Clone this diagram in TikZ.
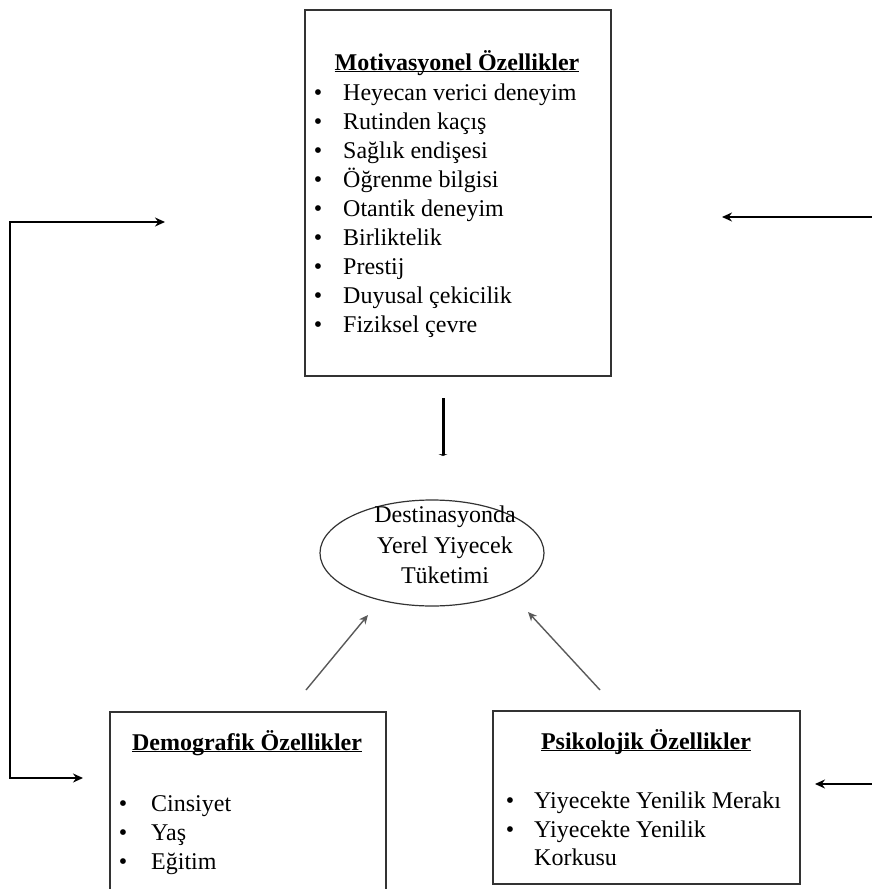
\documentclass[tikz,border=0pt]{standalone}
\usepackage{fontspec}
\setmainfont{Liberation Serif}
\usetikzlibrary{arrows.meta,shapes.geometric}
\newcommand\myul[1]{\underline{\smash{#1}}}
\begin{document}
\begin{tikzpicture}[x=1pt,y=-1pt,
 box/.style={draw=black!80, line width=1.2pt, inner sep=0pt, outer sep=0pt},
 txt/.style={font=\fontsize{24}{29}\selectfont, inner sep=0pt, anchor=base west},
 ttl/.style={font=\fontsize{24}{29}\selectfont\bfseries, inner sep=0pt, anchor=base},
 ctr/.style={font=\fontsize{24}{29}\selectfont, inner sep=0pt, anchor=base},
 bul/.style={font=\fontsize{24}{29}\selectfont, inner sep=0pt, anchor=base},
 mytip/.tip={Stealth[length=10pt,width=9pt]},
 conn/.style={line width=1.5pt, -mytip},
 diag/.style={black!65, line width=1.4pt, -{Stealth[length=9pt,width=8pt]}}
]
\useasboundingbox (0,0) rectangle (872,889);

% boxes
\node[box, minimum width=306pt, minimum height=366pt] (mot) at (458,193) {};
\node[box, minimum width=276pt, minimum height=182pt] (dem) at (248,803) {};
\node[box, minimum width=307pt, minimum height=173pt] (psi) at (646.5,797.5) {};
\node[draw=black!80, line width=1.2pt, ellipse, minimum width=224pt, minimum height=106pt, inner sep=0pt] (ell) at (432,553) {};

% motivasyonel
\node[ttl] (motT) at (457,70) {\myul{Motivasyonel Özellikler}};
\foreach \t [count=\i] in {Heyecan verici deneyim, Rutinden kaçış, Sağlık endişesi, Öğrenme bilgisi, Otantik deneyim, Birliktelik, Prestij, Duyusal çekicilik, Fiziksel çevre}{
  \node[bul] (mb\i) at (318,{100+29*(\i-1)}) {\textbullet};
  \node[txt] (mt\i) at (343,{100+29*(\i-1)}) {\t};
}

% ellipse text
\node[ctr] (e1) at (445,522) {Destinasyonda};
\node[ctr] (e2) at (445,553) {Yerel Yiyecek};
\node[ctr] (e3) at (445,583) {Tüketimi};

% demografik
\node[ttl] (demT) at (247,750) {\myul{Demografik Özellikler}};
\foreach \t [count=\i] in {Cinsiyet, Yaş, Eğitim}{
  \node[bul] (db\i) at (123,{811+29*(\i-1)}) {\textbullet};
  \node[txt] (dt\i) at (151,{811+29*(\i-1)}) {\t};
}

% psikolojik
\node[ttl] (psiT) at (646,749) {\myul{Psikolojik Özellikler}};
\node[bul] (pb1) at (510,808) {\textbullet};
\node[txt] (pt1) at (534,808) {Yiyecekte Yenilik Merakı};
\node[bul] (pb2) at (510,837) {\textbullet};
\node[txt] (pt2) at (534,837) {Yiyecekte Yenilik};
\node[txt] (pt3) at (534,865) {Korkusu};

% connectors
\coordinate (la) at (165,222);
\coordinate (lt) at (10,222);
\coordinate (lb) at (10,778);
\coordinate (lc) at (83,778);
\draw[line width=1.5pt, mytip-mytip] (la) -- (lt) -- (lb) -- (lc);

\coordinate (rt1) at (872,217);
\coordinate (ra1) at (722,217);
\draw[conn] (rt1) -- (ra1);
\coordinate (rt2) at (872,784);
\coordinate (ra2) at (815,784);
\draw[conn] (rt2) -- (ra2);

\coordinate (v1) at (443,398);
\coordinate (v2) at (443,456);
\draw[line width=3pt, -{Stealth[length=2pt,width=9pt]}] (v1) -- (v2);

\coordinate (d1s) at (306,690);
\coordinate (d1e) at (368,615);
\draw[diag] (d1s) -- (d1e);
\coordinate (d2s) at (600,690);
\coordinate (d2e) at (528,612);
\draw[diag] (d2s) -- (d2e);
\end{tikzpicture}
\end{document}
